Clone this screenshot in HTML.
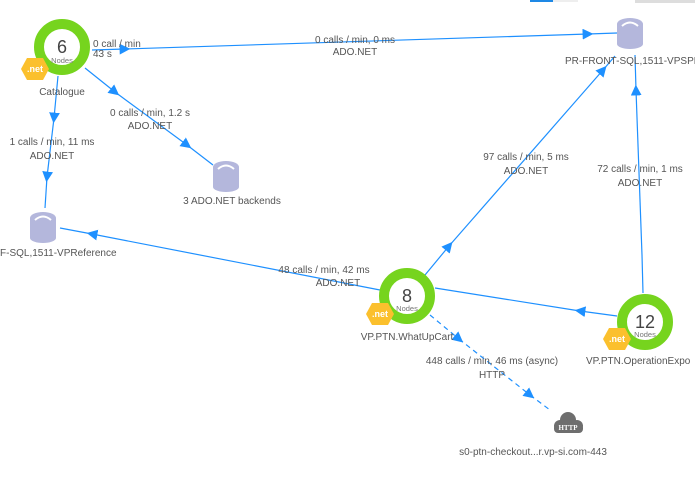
<!DOCTYPE html>
<html><head><style>
body{margin:0;background:#fff;}
svg{display:block;font-family:"Liberation Sans",sans-serif;}
text{fill:#555;font-size:10px;text-anchor:middle;}
</style></head><body>
<svg width="695" height="481" viewBox="0 0 695 481">
<defs>
<marker id="a" viewBox="0 0 10 10" refX="5" refY="5" markerWidth="9" markerHeight="9" orient="auto"><path d="M0,0 L10,5 L0,10 z" fill="#1e90ff"/></marker>
<g id="db"><ellipse cx="0" cy="-9" rx="13" ry="6" fill="#b4b7dc"/><rect x="-13" y="-9" width="26" height="20" fill="#b4b7dc"/><ellipse cx="0" cy="11" rx="13" ry="5" fill="#b4b7dc"/><path d="M-8,-7 Q0,-14 8,-7" stroke="#fff" stroke-width="2" fill="none"/></g>
<g id="hex"><polygon points="-8,-11 8,-11 14,0 8,11 -8,11 -14,0" fill="#fbc02d"/></g>
</defs>
<rect x="530" y="0" width="23" height="2" fill="#1e88e5"/>
<rect x="553" y="0" width="25" height="2" fill="#eee"/>
<rect x="635" y="0" width="60" height="3" fill="#ddd"/>
<g stroke="#1e90ff" stroke-width="1.2" fill="none">
<line x1="92" y1="50" x2="125" y2="49" marker-end="url(#a)"/>
<line x1="125" y1="49" x2="588" y2="34" marker-end="url(#a)"/>
<line x1="588" y1="34" x2="617" y2="33"/>
<line x1="85" y1="68" x2="115" y2="92" marker-end="url(#a)"/>
<line x1="115" y1="92" x2="187" y2="145" marker-end="url(#a)"/>
<line x1="187" y1="145" x2="213" y2="165"/>
<line x1="58" y1="76" x2="54" y2="118" marker-end="url(#a)"/>
<line x1="54" y1="118" x2="47" y2="177" marker-end="url(#a)"/>
<line x1="47" y1="177" x2="45" y2="208"/>
<line x1="380" y1="290" x2="92" y2="234" marker-end="url(#a)"/>
<line x1="92" y1="234" x2="60" y2="228"/>
<line x1="425" y1="275" x2="449" y2="246" marker-end="url(#a)"/>
<line x1="449" y1="246" x2="603" y2="70" marker-end="url(#a)"/>
<line x1="603" y1="70" x2="615" y2="56"/>
<line x1="643" y1="293" x2="642" y2="255"/>
<line x1="642" y1="255" x2="636" y2="90" marker-end="url(#a)"/>
<line x1="636" y1="90" x2="635" y2="55"/>
<line x1="617" y1="316" x2="580" y2="311" marker-end="url(#a)"/>
<line x1="580" y1="311" x2="435" y2="288"/>
<g stroke-dasharray="5,4">
<line x1="430" y1="315" x2="459" y2="339" marker-end="url(#a)"/>
<line x1="459" y1="339" x2="530" y2="395" marker-end="url(#a)"/>
<line x1="530" y1="395" x2="550" y2="410"/>
</g>
</g>
<text x="93" y="47" style="text-anchor:start">0 call / min</text>
<text x="93" y="57" style="text-anchor:start">43 s</text>
<text x="355" y="43">0 calls / min, 0 ms</text><text x="355" y="55">ADO.NET</text>
<text x="150" y="116">0 calls / min, 1.2 s</text><text x="150" y="129">ADO.NET</text>
<text x="52" y="145">1 calls / min, 11 ms</text><text x="52" y="159">ADO.NET</text>
<text x="324" y="273">48 calls / min, 42 ms</text><text x="338" y="286">ADO.NET</text>
<text x="526" y="160">97 calls / min, 5 ms</text><text x="526" y="174">ADO.NET</text>
<text x="640" y="172">72 calls / min, 1 ms</text><text x="640" y="186">ADO.NET</text>
<text x="492" y="364">448 calls / min, 46 ms (async)</text><text x="492" y="378">HTTP</text>
<use href="#db" x="630" y="33"/><text x="565" y="64" style="text-anchor:start">PR-FRONT-SQL,1511-VPSPE</text>
<use href="#db" x="43" y="227"/><text x="0" y="256" style="text-anchor:start">F-SQL,1511-VPReference</text>
<use href="#db" x="226" y="176"/><text x="232" y="204">3 ADO.NET backends</text>
<g fill="#fff" stroke="#76d41e" stroke-width="10">
<circle cx="62" cy="47" r="23"/><circle cx="407" cy="296" r="23"/><circle cx="645" cy="322" r="23"/>
</g>
<text x="62" y="53" style="font-size:18px;fill:#444">6</text><text x="62" y="63" style="font-size:7.5px;fill:#777">Nodes</text>
<text x="407" y="302" style="font-size:18px;fill:#444">8</text><text x="407" y="311" style="font-size:7.5px;fill:#777">Nodes</text>
<text x="645" y="328" style="font-size:18px;fill:#444">12</text><text x="645" y="337" style="font-size:7.5px;fill:#777">Nodes</text>
<use href="#hex" x="35" y="69"/><text x="35" y="72" style="fill:#fff;font-weight:bold;font-size:9px">.net</text>
<use href="#hex" x="380" y="314"/><text x="380" y="317" style="fill:#fff;font-weight:bold;font-size:9px">.net</text>
<use href="#hex" x="617" y="339"/><text x="617" y="342" style="fill:#fff;font-weight:bold;font-size:9px">.net</text>
<text x="62" y="95">Catalogue</text>
<text x="407" y="340">VP.PTN.WhatUpCart</text>
<text x="586" y="364" style="text-anchor:start">VP.PTN.OperationExpo</text>
<g fill="#6e6e6e"><circle cx="568" cy="420" r="8"/><circle cx="560" cy="426" r="6"/><circle cx="577" cy="426" r="6"/><rect x="554" y="424" width="29" height="9" rx="4"/></g>
<text x="568" y="430" style="fill:#fff;font-size:7px;font-weight:bold;font-family:'Liberation Serif',serif">HTTP</text>
<text x="533" y="455">s0-ptn-checkout...r.vp-si.com-443</text>
</svg>
</body></html>
